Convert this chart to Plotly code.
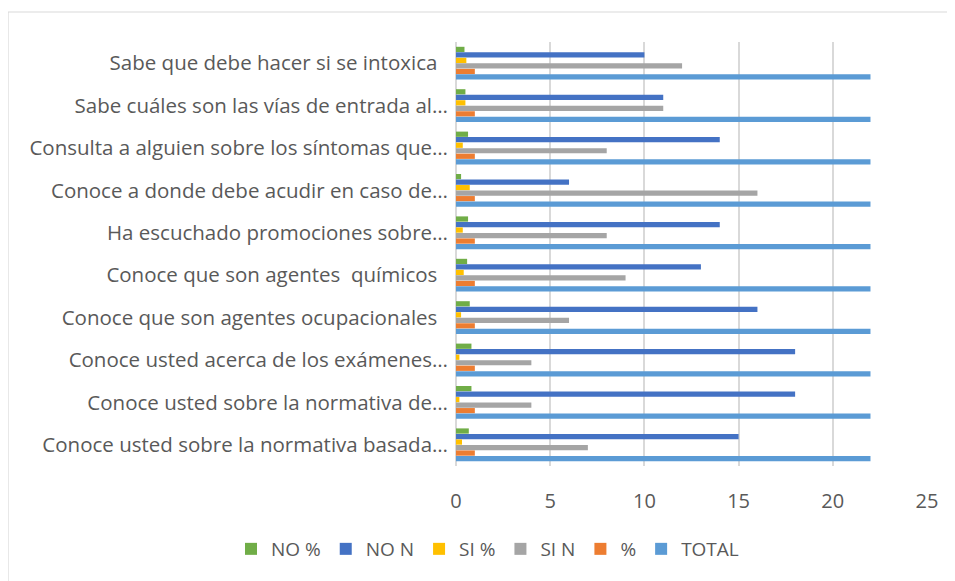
import plotly.graph_objects as go

categories = [
    "Sabe que debe hacer si se intoxica\u00a0\u00a0",
    "Sabe cuáles son las vías de entrada al…",
    "Consulta a alguien sobre los síntomas que…",
    "Conoce a donde debe acudir en caso de…",
    "Ha escuchado promociones sobre…",
    "Conoce que son agentes\u00a0\u00a0químicos\u00a0\u00a0",
    "Conoce que son agentes ocupacionales\u00a0\u00a0",
    "Conoce usted acerca de los exámenes…",
    "Conoce usted sobre la normativa de…",
    "Conoce usted sobre la normativa basada…",
]
no_pct = [0.45, 0.5, 0.64, 0.27, 0.64, 0.59, 0.73, 0.82, 0.82, 0.68]
no_n = [10, 11, 14, 6, 14, 13, 16, 18, 18, 15]
si_pct = [0.55, 0.5, 0.36, 0.73, 0.36, 0.41, 0.27, 0.18, 0.18, 0.32]
si_n = [12, 11, 8, 16, 8, 9, 6, 4, 4, 7]
pct = [1, 1, 1, 1, 1, 1, 1, 1, 1, 1]
total = [22, 22, 22, 22, 22, 22, 22, 22, 22, 22]

series = [
    ("NO %", no_pct, "#70AD47"),
    ("NO N", no_n, "#4472C4"),
    ("SI %", si_pct, "#FFC000"),
    ("SI N", si_n, "#A5A5A5"),
    ("%", pct, "#ED7D31"),
    ("TOTAL", total, "#5B9BD5"),
]

fig = go.Figure()
for name, vals, col in series:
    fig.add_trace(go.Bar(y=categories, x=vals, name=name, orientation="h",
                         marker=dict(color=col, line=dict(width=0))))

# page body has an 8px margin, so figure coords = screen coords - 8
W, H = 955, 581
L, R, T, B = 448, 36, 34, 123
pw, ph = W - L - R, H - T - B

def px(x):
    return (x - L) / pw

def py(y):
    return (H - B - y) / ph

fig.update_layout(
    width=W, height=H,
    margin=dict(l=L, r=R, t=T, b=B),
    paper_bgcolor="white", plot_bgcolor="white",
    barmode="group", bargap=0.22, bargroupgap=0.05,
    font=dict(family="Open Sans", color="#595959", size=19),
    showlegend=True,
    legend=dict(orientation="h", xref="paper", yref="paper",
                x=px(223), y=py(541), xanchor="left", yanchor="middle",
                font=dict(size=19, color="#595959"), itemwidth=30,
                tracegroupgap=0, bgcolor="rgba(0,0,0,0)"),
    xaxis=dict(range=[0, 25], dtick=5, showgrid=True, gridcolor="#d9d9d9",
               gridwidth=1.5, zeroline=True, zerolinecolor="#d9d9d9",
               zerolinewidth=1.5, showline=False, ticks="",
               tickfont=dict(size=20, color="#595959"), ticklabelstandoff=21),
    yaxis=dict(autorange="reversed", showgrid=False, ticks="", showline=False,
               tickfont=dict(size=20.5, color="#595959"), ticklabelstandoff=7),
    shapes=[dict(type="rect", xref="paper", yref="paper",
                 x0=px(0), x1=px(975), y0=py(600), y1=py(4),
                 line=dict(color="#d9d9d9", width=1.2), fillcolor="rgba(0,0,0,0)",
                 layer="below")],
)

fig.write_html("out.html")
